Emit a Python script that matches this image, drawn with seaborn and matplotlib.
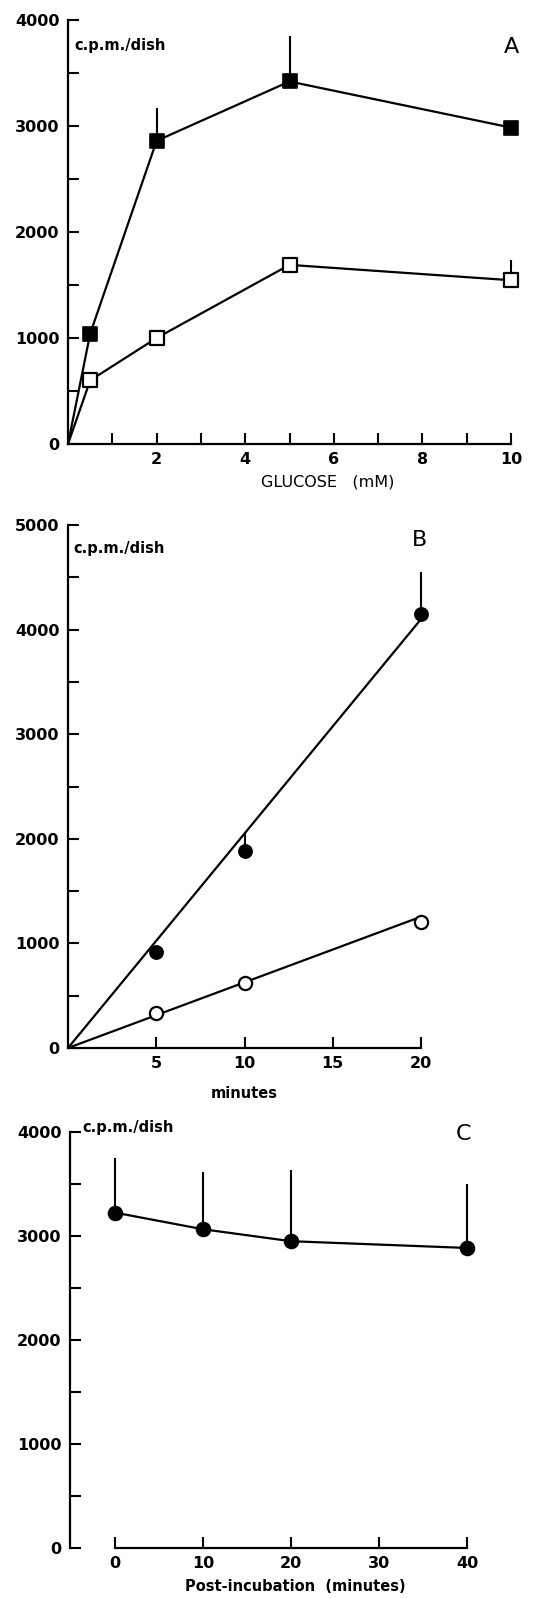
import numpy as np
import pandas as pd
import seaborn as sns
import matplotlib.pyplot as plt
from matplotlib.ticker import MultipleLocator

# panel A: uptake vs glucose
a_glucose = [0, 0.5, 2, 5, 10]
a_filled = [0, 1040, 2860, 3420, 2985]
a_filled_err = [0, 0, 310, 430, 0]
a_open = [0, 600, 1000, 1690, 1545]
a_open_err = [0, 0, 0, 0, 195]

# panel B: time course
b_minutes = [5, 10, 20]
b_filled = [920, 1885, 4150]
b_filled_err = [0, 172, 405]
b_open = [335, 625, 1200]
b_fit_x = [0, 20]
b_fit_filled = [0, 4100]
b_fit_open = [0, 1255]

# panel C: post-incubation
c_minutes = [0, 10, 20, 40]
c_values = [3225, 3065, 2950, 2885]
c_err = [525, 555, 680, 615]

sns.set_style("ticks")
plt.rcParams["font.family"] = ["DejaVu Sans"]
plt.rcParams["font.weight"] = "bold"
for k in ["text.color", "axes.labelcolor", "xtick.color", "ytick.color"]:
    plt.rcParams[k] = "black"

W, H = 552, 1598
fig = plt.figure(figsize=(W / 100, H / 100), dpi=100)

def box(x0, x1, ytop, ybot):
    return [x0 / W, 1 - ybot / H, (x1 - x0) / W, (ybot - ytop) / H]

def style(ax, ymax):
    sns.despine(ax=ax)
    ax.set_ylim(0, ymax)
    ax.yaxis.set_major_locator(MultipleLocator(1000))
    ax.yaxis.set_minor_locator(MultipleLocator(500))
    ax.tick_params(which="both", direction="in", width=1.5, length=8,
                   color="black", labelsize=11.5, pad=6)
    for s in ["left", "bottom"]:
        ax.spines[s].set_linewidth(1.6)
        ax.spines[s].set_color("black")

def up_err(ax, x, y, e):
    ax.errorbar(x, y, yerr=[np.zeros(len(e)), e], fmt="none",
                ecolor="black", elinewidth=1.5, capsize=0, zorder=2,
                clip_on=False)

# ---------- A ----------
axA = fig.add_axes(box(68, 511, 20, 444))
style(axA, 4000)
axA.set_xlim(0, 10)
up_err(axA, a_glucose, a_filled, a_filled_err)
up_err(axA, a_glucose, a_open, a_open_err)
sns.lineplot(x=a_glucose, y=a_filled, ax=axA, color="black", lw=1.6, zorder=3, clip_on=False)
sns.lineplot(x=a_glucose, y=a_open, ax=axA, color="black", lw=1.6, zorder=3, clip_on=False)
sns.scatterplot(x=a_glucose[1:], y=a_filled[1:], ax=axA, marker="s", s=95,
                color="black", edgecolor="black", linewidth=1.2, zorder=4, clip_on=False)
sns.scatterplot(x=a_glucose[1:], y=a_open[1:], ax=axA, marker="s", s=95,
                color="white", edgecolor="black", linewidth=1.6, zorder=4, clip_on=False)
axA.set_xticks(range(1, 11))
axA.set_xticklabels([str(i) if i % 2 == 0 else "" for i in range(1, 11)])
axA.set_xlabel("GLUCOSE   (mM)", fontsize=11.5, fontweight="normal")
axA.xaxis.set_label_coords(0.587, -0.072)
axA.text(0.014, 0.941, "c.p.m./dish", transform=axA.transAxes, fontsize=10.5,
         va="center", ha="left")
axA.text(1.002, 0.936, "A", transform=axA.transAxes, fontsize=16,
         fontweight="normal", va="center", ha="center")

# ---------- B ----------
axB = fig.add_axes(box(68, 421, 525, 1048))
style(axB, 5000)
axB.set_xlim(0, 20)
up_err(axB, b_minutes, b_filled, b_filled_err)
sns.lineplot(x=b_fit_x, y=b_fit_filled, ax=axB, color="black", lw=1.6, zorder=3, clip_on=False)
sns.lineplot(x=b_fit_x, y=b_fit_open, ax=axB, color="black", lw=1.6, zorder=3, clip_on=False)
sns.scatterplot(x=b_minutes, y=b_filled, ax=axB, marker="o", s=90,
                color="black", edgecolor="black", linewidth=1.2, zorder=4, clip_on=False)
sns.scatterplot(x=b_minutes, y=b_open, ax=axB, marker="o", s=90,
                color="white", edgecolor="black", linewidth=1.6, zorder=4, clip_on=False)
axB.set_xticks([5, 10, 15, 20])
axB.set_xlabel("minutes", fontsize=10.5, fontweight="bold")
axB.xaxis.set_label_coords(0.5, -0.072)
axB.text(0.014, 0.956, "c.p.m./dish", transform=axB.transAxes, fontsize=10.5,
         va="center", ha="left")
axB.text(0.997, 0.971, "B", transform=axB.transAxes, fontsize=16,
         fontweight="normal", va="center", ha="center")

# ---------- C ----------
axC = fig.add_axes(box(70, 467, 1132, 1548))
style(axC, 4000)
axC.set_xlim(-5.1, 40)
axC.spines["bottom"].set_bounds(0, 40)
up_err(axC, c_minutes, c_values, c_err)
sns.lineplot(x=c_minutes, y=c_values, ax=axC, color="black", lw=1.6, zorder=3, clip_on=False)
sns.scatterplot(x=c_minutes, y=c_values, ax=axC, marker="o", s=100,
                color="black", edgecolor="black", linewidth=1.2, zorder=4, clip_on=False)
axC.set_xticks([0, 10, 20, 30, 40])
axC.set_xlabel("Post-incubation  (minutes)", fontsize=10.5, fontweight="bold")
axC.xaxis.set_label_coords(0.567, -0.074)
axC.text(0.03, 1.01, "c.p.m./dish", transform=axC.transAxes, fontsize=10.5,
         va="center", ha="left")
axC.text(0.99, 0.995, "C", transform=axC.transAxes, fontsize=16,
         fontweight="normal", va="center", ha="center")

fig.savefig("out.png", dpi=100)
